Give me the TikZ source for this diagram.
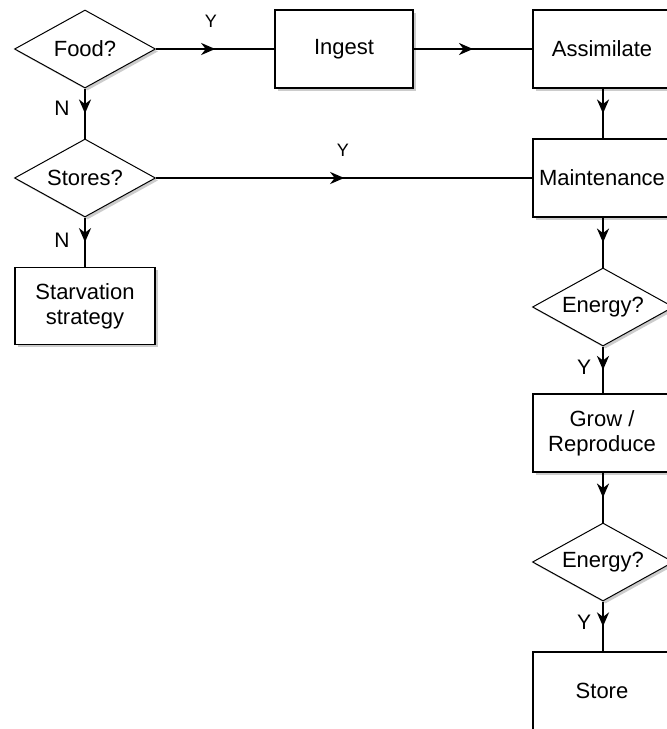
\documentclass[tikz,border=0pt]{standalone}
\usepackage{fontspec}
\setmainfont{Liberation Sans}
\usetikzlibrary{shapes.geometric,decorations.markings,arrows.meta,shadows}
\begin{document}
\begin{tikzpicture}[x=1pt,y=-1pt,
  every node/.style={font=\fontsize{22}{25}\selectfont},
  shad/.style={drop shadow={shadow xshift=2.5pt,shadow yshift=-2.5pt,fill=gray!40,opacity=1}},
  box/.style={draw,line width=1.3pt,fill=white,minimum width=138pt,minimum height=78pt,inner sep=0pt,align=center,shad},
  dec/.style={draw,diamond,aspect=1.8,line width=1pt,fill=white,minimum width=141pt,minimum height=78pt,inner sep=0pt,shad},
  flow/.style={line width=2.3pt,postaction={decorate},decoration={markings,mark=at position 0.5 with {\arrow{Stealth[length=14pt,width=12pt,inset=4.5pt]}}}},
  lbl/.style={font=\fontsize{21}{24}\selectfont},
  slbl/.style={font=\fontsize{18}{20}\selectfont}]
\useasboundingbox (0,0) rectangle (667,729);
\fill[white] (0,0) rectangle (667,729);
% nodes
\node[dec] (food) at (85,49) {Food?};
\node[box] (ingest) at (344,49) {Ingest};
\node[box] (assim) at (602,49) {Assimilate};
\node[dec] (stores) at (85,178) {Stores?};
\node[box] (maint) at (602,178) {Maintenance};
\node[box,minimum width=140pt,minimum height=77pt] (starv) at (85,306) {Starvation\\strategy};
\node[dec] (en1) at (603,307) {Energy?};
\node[box] (grow) at (602,433) {Grow /\\Reproduce};
\node[dec] (en2) at (603,562) {Energy?};
\node[box] (store) at (602,691) {Store};
% connectors
\draw[flow] (food.east) -- (ingest.west);
\draw[flow] (ingest.east) -- (assim.west);
\draw[flow] (stores.east) -- (maint.west);
\draw[flow] (food.south) -- (stores.north);
\draw[flow] (stores.south) -- (starv.north);
\draw[flow] (assim.south -| en1.north) -- (maint.north -| en1.north);
\draw[flow] (maint.south -| en1.north) -- (en1.north);
\draw[flow] (en1.south) -- (grow.north -| en1.south);
\draw[flow] (grow.south -| en2.north) -- (en2.north);
\draw[flow] (en2.south) -- (store.north -| en2.south);
% labels
\node[slbl] (y1) at (211,21) {Y};
\node[slbl] (y2) at (343,150) {Y};
\node[lbl] (n1) at (62,108) {N};
\node[lbl] (n2) at (62,240) {N};
\node[lbl] (y3) at (584,367) {Y};
\node[lbl] (y4) at (584,622) {Y};
\end{tikzpicture}
\end{document}
